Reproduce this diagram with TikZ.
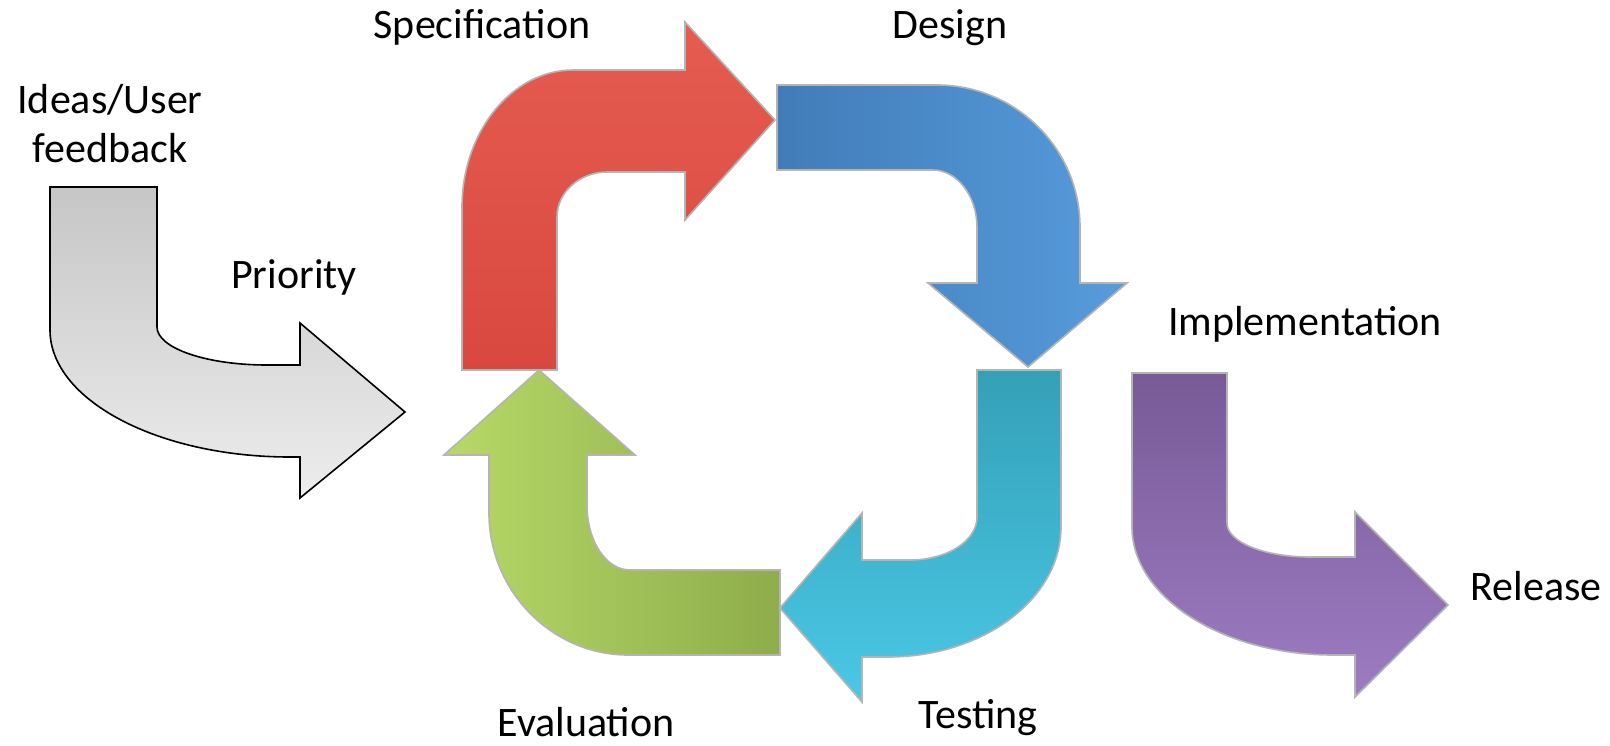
\documentclass[tikz,border=0pt]{standalone}
\usepackage{fontspec}
\setmainfont{Carlito}
\definecolor{grayA}{HTML}{C6C6C6}
\definecolor{grayB}{HTML}{EDEDED}
\definecolor{redA}{HTML}{E55C50}
\definecolor{redB}{HTML}{D9483F}
\definecolor{blueA}{HTML}{417CB8}
\definecolor{blueB}{HTML}{579CDC}
\definecolor{cyanA}{HTML}{34A0B7}
\definecolor{cyanB}{HTML}{4AC8E6}
\definecolor{greenA}{HTML}{B6D968}
\definecolor{greenB}{HTML}{8EAD4B}
\definecolor{purpA}{HTML}{785A97}
\definecolor{purpB}{HTML}{9D7CC2}
\definecolor{rimc}{HTML}{B4B4B4}
\tikzset{
  lbl/.style={anchor=base, inner sep=0pt, font=\fontsize{42}{49}\selectfont, text=black},
  arr/.style={draw=rimc, line width=1.6pt, line join=miter},
}
\begin{document}
\begin{tikzpicture}[x=1pt, y=-1pt]
\useasboundingbox (0,0) rectangle (1610,745);
\fill[white] (0,0) rectangle (1610,745);

% gray arrow (Ideas -> Priority)
\path[draw=black, line width=1.6pt, top color=grayA, bottom color=grayB]
  (50,187) -- (157,187) -- (157,327)
  .. controls (157,348) and (206,365) .. (267,365)
  -- (300,365) -- (300,323) -- (405,412) -- (300,498) -- (300,457) -- (290,457)
  .. controls (158,457) and (50,400) .. (50,330) -- cycle;

% red arrow (Specification)
\path[arr, top color=redA, bottom color=redB]
  (462,370) -- (462,207)
  .. controls (462,132) and (512,70) .. (573,70)
  -- (685,70) -- (685,22) -- (775,120) -- (685,220) -- (685,172) -- (607,172)
  .. controls (580,172) and (557,192) .. (557,217)
  -- (557,370) -- cycle;

% blue arrow (Design)
\path[arr, left color=blueA, right color=blueB]
  (777,85) -- (937,85)
  .. controls (1016,85) and (1080,149) .. (1080,227)
  -- (1080,283) -- (1127,283) -- (1028,367) -- (928,283) -- (977,283) -- (977,227)
  .. controls (977,196) and (957,170) .. (933,170)
  -- (777,170) -- cycle;

% cyan arrow (Testing)
\path[arr, top color=cyanA, bottom color=cyanB]
  (977,370) -- (1061,370) -- (1061,527)
  .. controls (1061,599) and (983,657) .. (888,657)
  -- (862,657) -- (862,702) -- (780,608) -- (862,513) -- (862,560) -- (910,560)
  .. controls (947,560) and (977,541) .. (977,517) -- cycle;

% green arrow (Evaluation)
\path[arr, left color=greenA, right color=greenB]
  (780,570) -- (780,655) -- (628,655)
  .. controls (552,655) and (489,591) .. (489,513)
  -- (489,455) -- (444,455) -- (539,370) -- (635,455) -- (587,455) -- (587,505)
  .. controls (587,541) and (606,570) .. (630,570) -- cycle;

% purple arrow (Implementation -> Release)
\path[arr, top color=purpA, bottom color=purpB]
  (1132,373) -- (1227,373) -- (1227,523)
  .. controls (1227,542) and (1264,557) .. (1310,557)
  -- (1355,557) -- (1355,512) -- (1448,605) -- (1355,697) -- (1355,655) -- (1333,655)
  .. controls (1222,655) and (1132,597) .. (1132,527) -- cycle;

% labels
\node[lbl] (ideas) at (110,113) {Ideas/User};
\node[lbl] (feedback) at (110,162) {feedback};
\node[lbl] (priority) at (294,288) {Priority};
\node[lbl] (spec) at (482,38) {Specification};
\node[lbl] (design) at (950,38) {Design};
\node[lbl] (impl) at (1305,335) {Implementation};
\node[lbl] (release) at (1536,600) {Release};
\node[lbl] (testing) at (978,728) {Testing};
\node[lbl] (eval) at (586,736) {Evaluation};
\end{tikzpicture}
\end{document}
